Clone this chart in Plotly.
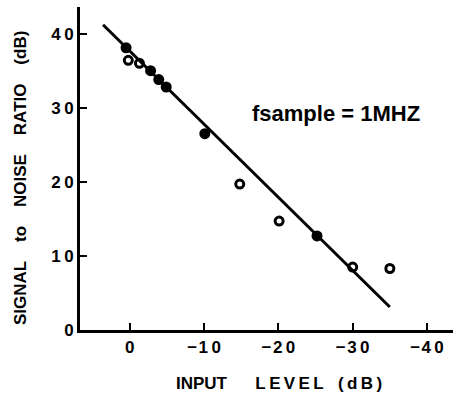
import plotly.graph_objects as go

# Data
filled_x = [0.5, -2.8, -3.9, -4.9, -10.1, -25.2]
filled_y = [38.1, 35.0, 33.8, 32.8, 26.5, 12.7]
open_x = [0.2, -1.3, -14.8, -20.1, -30.0, -35.0]
open_y = [36.4, 36.0, 19.7, 14.7, 8.5, 8.3]
fit_x = [3.6, -35.0]
fit_y = [41.2, 3.1]
x_ticks = [0, -10, -20, -30, -40]
y_ticks = [0, 10, 20, 30, 40]
x_ticktext = ["0", "−\u200a1\u20090", "−\u200a2\u20090", "−\u200a3\u20090", "−\u200a4\u20090"]
y_ticktext = ["0", "1\u20090", "2\u20090", "3\u20090", "4\u20090"]

FONT = "Liberation Sans"
NB = "&nbsp;"
TS = "\u2009"


def spaced(word):
    return TS.join(word)


fig = go.Figure()
fig.add_trace(go.Scatter(x=fit_x, y=fit_y, mode="lines",
                         line=dict(color="black", width=3), hoverinfo="skip"))
fig.add_trace(go.Scatter(x=filled_x, y=filled_y, mode="markers",
                         marker=dict(symbol="circle", size=11, color="black")))
fig.add_trace(go.Scatter(x=open_x, y=open_y, mode="markers",
                         marker=dict(symbol="circle-open", size=8, color="black",
                                     line=dict(width=3, color="black"))))

fig.update_layout(
    width=462, height=397,
    margin=dict(l=80, r=9, t=7, b=67),
    paper_bgcolor="white", plot_bgcolor="white",
    showlegend=False,
    font=dict(family=FONT, color="black"),
)
fig.update_xaxes(
    range=[6.7, -43.5], tickvals=x_ticks, ticktext=x_ticktext,
    showgrid=False, zeroline=False,
    showline=True, linecolor="black", linewidth=3,
    ticks="inside", ticklen=7, tickwidth=2, tickcolor="black",
    tickfont=dict(size=17, family=FONT, weight="bold"),
)
fig.update_yaxes(
    range=[0, 43.6], tickvals=y_ticks, ticktext=y_ticktext,
    showgrid=False, zeroline=False,
    showline=True, linecolor="black", linewidth=3,
    ticks="inside", ticklen=7, tickwidth=2, tickcolor="black",
    tickfont=dict(size=17, family=FONT, weight="bold"),
)
fig.add_annotation(text="INPUT" + NB * 6 + spaced("LEVEL") + NB * 3 + spaced("(dB)"),
                   xref="paper", yref="paper", x=(279 - 80) / 373, y=-(383 - 330) / 323,
                   showarrow=False, xanchor="center", yanchor="middle",
                   font=dict(size=17, family=FONT, weight="bold"))
fig.add_annotation(text="SIGNAL" + NB * 4 + "to" + NB * 4 + "NOISE" + NB * 4 + "RATIO" + NB * 4 + "(dB)",
                   xref="paper", yref="paper", x=-(80 - 20) / 373, y=(330 - 178) / 323,
                   showarrow=False, textangle=-90, xanchor="center", yanchor="middle",
                   font=dict(size=17, family=FONT, weight="bold"))
fig.add_annotation(text="fsample = 1MHZ",
                   xref="paper", yref="paper", x=(250 - 80) / 373, y=(330 - 113) / 323,
                   showarrow=False, xanchor="left", yanchor="middle",
                   font=dict(size=22, family=FONT, weight="bold"))

fig.write_html("out.html")
